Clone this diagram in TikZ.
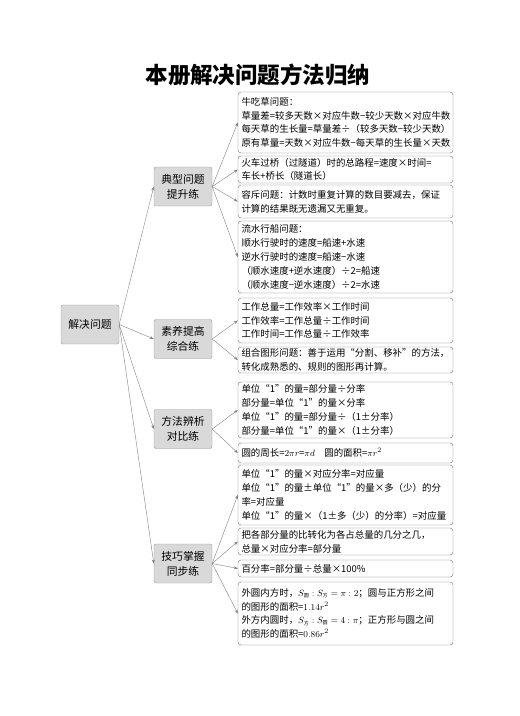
\documentclass[tikz,border=0pt]{standalone}
\usepackage{fontspec}
\setmainfont{Noto Sans CJK SC}
\usetikzlibrary{arrows.meta}

\newcommand{\sub}[1]{\mbox{\fontsize{5}{5}\selectfont #1}}

\begin{document}
\begin{tikzpicture}[x=1pt,y=-1pt,
	catbox/.style={draw=gray!80,fill=gray!30,rounded corners=2pt,minimum width=58pt,minimum height=39pt,align=center,inner sep=1pt,font=\fontsize{10.8}{15}\selectfont},
	notebox/.style={draw=gray!90!black,fill=white,rounded corners=3pt,text width=208pt,inner xsep=3.5pt,inner ysep=1.5pt,align=left,font=\fontsize{9.45}{13.8}\selectfont},
	link/.style={->,>={Stealth[length=4pt,width=3pt]},draw=gray}]
	
	\useasboundingbox (0,0) rectangle (520,716);
	
	
	
	% title
	\node[font=\fontsize{22.5}{22.5}\selectfont\bfseries] (title) at (258,75) {本册解决问题方法归纳};
	
	
	
	% root and the four kinds of practice
	\node[catbox] (root) at (90,324.5) {解决问题};
	\node[catbox] (typical) at (183,186.5) {典型问题\\提升练};
	\node[catbox] (quality) at (183,339) {素养提高\\综合练};
	\node[catbox] (method) at (183,429) {方法辨析\\对比练};
	\node[catbox] (skill) at (183,563.5) {技巧掌握\\同步练};
	
	
	
	% notes of typical problems
	\node[notebox,minimum height=61pt] (grass) at (345.5,122.5) {牛吃草问题：\\草量差=较多天数×对应牛数−较少天数×对应牛数\\每天草的生长量=草量差÷（较多天数−较少天数）\\原有草量=天数×对应牛数−每天草的生长量×天数};
	\node[notebox,minimum height=27pt] (bridge) at (345.5,169.5) {火车过桥（过隧道）时的总路程=速度×时间=\\车长+桥长（隧道长）};
	\node[notebox,minimum height=33pt] (overlap) at (345.5,201.5) {容斥问题：计数时重复计算的数目要减去，保证\\计算的结果既无遗漏又无重复。};
	\node[notebox,minimum height=72pt] (boat) at (345.5,257) {流水行船问题：\\顺水行驶时的速度=船速+水速\\逆水行驶时的速度=船速−水速\\（顺水速度+逆水速度）÷2=船速\\（顺水速度−逆水速度）÷2=水速};
	
	% notes of quality practice
	\node[notebox,minimum height=45pt] (work) at (345.5,320.5) {工作总量=工作效率×工作时间\\工作效率=工作总量÷工作时间\\工作时间=工作总量÷工作效率};
	\node[notebox,minimum height=26pt] (shape) at (345.5,360) {组合图形问题：善于运用“分割、移补”的方法，\\转化成熟悉的、规则的图形再计算。};
	
	% notes of method practice
	\node[notebox,minimum height=56pt] (unitone) at (345.5,410) {单位“1”的量=部分量÷分率\\部分量=单位“1”的量×分率\\单位“1”的量=部分量÷（1±分率）\\部分量=单位“1”的量×（1±分率）};
	\node[notebox,minimum height=20pt] (circle) at (345.5,453) {圆的周长=$2\pi r$=$\pi d$\quad 圆的面积=$\pi r^2$};
	
	% notes of skill practice
	\node[notebox,minimum height=60pt] (fraction) at (345.5,495) {单位“1”的量×对应分率=对应量\\单位“1”的量±单位“1”的量×多（少）的分\\率=对应量\\单位“1”的量×（1±多（少）的分率）=对应量};
	\node[notebox,minimum height=27pt] (ratio) at (345.5,541.5) {把各部分量的比转化为各占总量的几分之几，\\总量×对应分率=部分量};
	\node[notebox,minimum height=17pt] (percent) at (345.5,568.5) {百分率=部分量÷总量×100\%};
	\node[notebox,minimum height=63pt] (square) at (345.5,613.5) {外圆内方时，$S_{\sub{圆}}:S_{\sub{方}}=\pi:2$；圆与正方形之间\\的图形的面积=$1.14r^2$\\外方内圆时，$S_{\sub{方}}:S_{\sub{圆}}=4:\pi$；正方形与圆之间\\的图形的面积=$0.86r^2$};
	
	
	
	% arrows from the root
	\draw[link] (root.east) -- (typical.west);
	\draw[link] (root.east) -- (quality.west);
	\draw[link] (root.east) -- (method.west);
	\draw[link] (root.east) -- (skill.west);
	
	% arrows to the notes
	\draw[link] (typical.east) -- (grass.west);
	\draw[link] (typical.east) -- (bridge.west);
	\draw[link] (typical.east) -- (overlap.west);
	\draw[link] (typical.east) -- (boat.west);
	\draw[link] (quality.east) -- (work.west);
	\draw[link] (quality.east) -- (shape.west);
	\draw[link] (method.east) -- (unitone.west);
	\draw[link] (method.east) -- (circle.west);
	\draw[link] (skill.east) -- (fraction.west);
	\draw[link] (skill.east) -- (ratio.west);
	\draw[link] (skill.east) -- (percent.west);
	\draw[link] (skill.east) -- (square.west);
	
\end{tikzpicture}
\end{document}
